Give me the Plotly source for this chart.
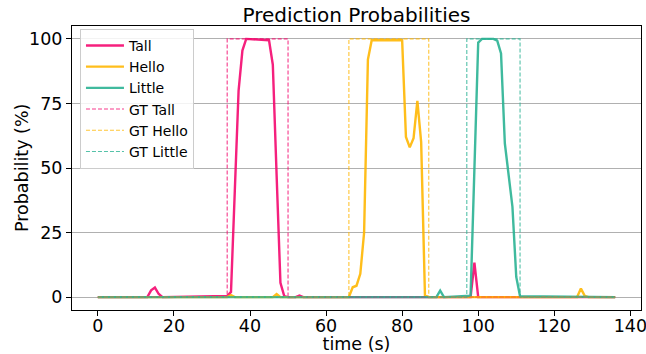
import plotly.graph_objects as go

# ---- data ----
tall_t = [0, 13, 14, 15, 16, 17, 34, 35, 36, 37, 38, 39, 45, 46, 47, 48, 49, 50, 52, 53, 54, 98, 99, 100, 136]
tall_v = [0, 0, 2.6, 3.7, 1.2, 0, 0.4, 2, 41, 80, 95.5, 100, 99.5, 90, 47, 5.5, 0.4, 0, 0, 0.6, 0, 0, 13.3, 0, 0]

hello_t = [0, 34, 35, 36, 46, 47, 48, 66, 67, 68, 69, 70, 71, 72, 80, 81, 82, 83, 84, 85, 86, 87, 126, 127, 128, 129, 136]
hello_v = [0, 0, 0.8, 0, 0, 1.2, 0, 0, 3.8, 4.4, 9, 25, 92, 99.5, 99.5, 62, 58, 61.5, 76, 60, 0.7, 0, 0, 3.3, 0.5, 0, 0]

little_t = [0, 89, 90, 91, 98, 99, 100, 101, 104, 105, 106, 107, 108, 109, 110, 111, 136]
little_v = [0, 0, 2.5, 0, 0.5, 50, 98.6, 100, 100, 99.3, 94.4, 59.5, 48, 35, 7.8, 0.3, 0]

gt_tall_t = [0, 34, 34, 50, 50, 136]
gt_tall_v = [0, 0, 100, 100, 0, 0]
gt_hello_t = [0, 66, 66, 87, 87, 136]
gt_hello_v = [0, 0, 100, 100, 0, 0]
gt_little_t = [0, 97, 97, 111, 111, 136]
gt_little_v = [0, 0, 100, 100, 0, 0]

y_ticks = [0, 25, 50, 75, 100]
x_ticks = [0, 20, 40, 60, 80, 100, 120, 140]

PINK = "#f5086f"
AMBER = "#ffb703"
TEAL = "#2bb394"
FONT = "DejaVu Sans"

fig = go.Figure()
for name, t, v, c in [("Tall", tall_t, tall_v, PINK),
                      ("Hello", hello_t, hello_v, AMBER),
                      ("Little", little_t, little_v, TEAL)]:
    fig.add_trace(go.Scatter(x=t, y=v, mode="lines", name=name, opacity=0.9,
                             line=dict(color=c, width=2.4)))
for name, t, v, c in [("GT Tall", gt_tall_t, gt_tall_v, PINK),
                      ("GT Hello", gt_hello_t, gt_hello_v, AMBER),
                      ("GT Little", gt_little_t, gt_little_v, TEAL)]:
    fig.add_trace(go.Scatter(x=t, y=v, mode="lines", name=name, opacity=0.8,
                             line=dict(color=c, width=1.1, dash="4px,2px")))

fig.update_layout(
    width=646, height=354,
    margin=dict(l=72, r=5, t=26, b=44),
    paper_bgcolor="white", plot_bgcolor="white",
    font=dict(family=FONT, size=17.5, color="black"),
    title=dict(text="Prediction Probabilities", x=0.5, xref="paper", xanchor="center",
               y=1 - 15 / 354, yref="container", yanchor="middle",
               font=dict(family=FONT, size=20, color="black")),
    showlegend=True,
    legend=dict(x=0.014, y=0.99, xanchor="left", yanchor="top", itemwidth=38,
                bgcolor="rgba(255,255,255,0.85)", bordercolor="#cccccc", borderwidth=1,
                font=dict(family=FONT, size=14, color="black"), tracegroupgap=0),
    annotations=[dict(text="Probability (%)", textangle=-90, xref="paper", yref="paper",
                      x=(22 - 72) / 569, y=0.5, xanchor="center", yanchor="middle",
                      showarrow=False, font=dict(family=FONT, size=17.5, color="black"))],
)
fig.update_xaxes(range=[-6.8, 142.8], tickvals=x_ticks, showgrid=False, zeroline=False,
                 showline=True, mirror=True, linecolor="black", linewidth=1,
                 ticks="outside", ticklen=5, tickcolor="black", automargin=False,
                 tickfont=dict(size=17.5), ticklabelstandoff=-5, ticklabeloverflow="allow",
                 title=dict(text="time (s)", standoff=0, font=dict(size=17.5)))
fig.update_yaxes(range=[-5, 105], tickvals=y_ticks, showgrid=True, gridcolor="#b0b0b0",
                 gridwidth=1, zeroline=False,
                 showline=True, mirror=True, linecolor="black", linewidth=1,
                 ticks="outside", ticklen=5, tickcolor="black", automargin=False,
                 tickfont=dict(size=17.5))

fig.write_html("out.html", config={"displayModeBar": False},
               post_script="document.body.style.margin='0';document.body.style.overflow='hidden';")
